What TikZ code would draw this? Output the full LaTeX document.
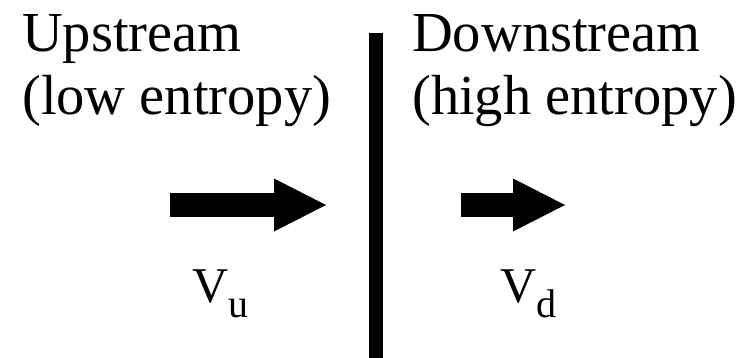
\documentclass[tikz,border=0pt]{standalone}
\usepackage{fontspec}
\setmainfont{Liberation Serif}
\usetikzlibrary{arrows.meta}

\tikzset{
  label text/.style={inner sep=0pt, anchor=base west, font=\fontsize{56.5}{63}\selectfont},
  speed/.style={inner sep=0pt, anchor=base west, font=\fontsize{50}{60}\selectfont},
  flow arrow/.style={line width=23pt, -{Triangle[length=52pt, width=53pt, line width=0pt]}},
}
\newcommand{\subvel}[1]{{\fontsize{40}{48}\selectfont\raisebox{-15pt}{#1}}}

\begin{document}
\begin{tikzpicture}[x=1pt, y=-1pt]
  \useasboundingbox (0, 0) rectangle (741, 358);

  % shock front
  \coordinate (ST) at (376, 33);
  \coordinate (SB) at (376, 358);
  \draw[line width=14pt] (ST) -- (SB);

  % region labels
  \node[label text] (up1)   at (22, 52)  {Upstream};
  \node[label text] (up2)   at (22, 115) {(low entropy)};
  \node[label text] (down1) at (412, 52)  {Downstream};
  \node[label text] (down2) at (412, 115) {(high entropy)};

  % flow velocities
  \coordinate (Au) at (170, 205);
  \coordinate (Bu) at (326, 205);
  \coordinate (Ad) at (461, 205);
  \coordinate (Bd) at (565, 205);
  \draw[flow arrow] (Au) -- (Bu);
  \draw[flow arrow] (Ad) -- (Bd);

  \node[speed] (vu) at (192, 302) {V\subvel{u}};
  \node[speed] (vd) at (500, 302) {V\subvel{d}};
\end{tikzpicture}
\end{document}
